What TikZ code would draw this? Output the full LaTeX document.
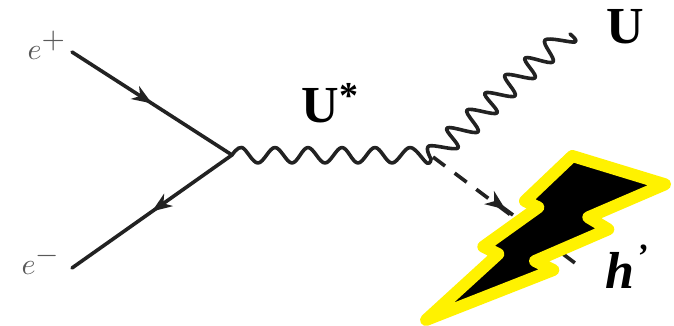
\documentclass[tikz,border=0pt]{standalone}
\usepackage{fontspec}
\newfontfamily\tnr{Liberation Serif}
\usetikzlibrary{decorations.markings,arrows.meta}
\definecolor{ink}{HTML}{222222}
\tikzset{
  x=1pt,y=-1pt,
  fermion/.style={draw=ink,line width=3.6pt,line cap=round,postaction={decorate},
    decoration={markings,mark=at position #1 with {\arrow{Stealth[length=20pt,width=15pt,inset=6pt]}}}},
  boson/.style={draw=ink,line width=3.6pt,line cap=round,line join=round},
  higgs/.style={draw=ink,line width=3.6pt,dash pattern=on 15pt off 12pt},
  elabel/.style={text=black!65,inner sep=0pt},
  blabel/.style={inner sep=0pt,text=black,font=\fontsize{52}{56}\selectfont\tnr\bfseries},
  bolt/.style={fill=black,draw=yellow,line width=12pt,line join=round},
}
\begin{document}
\begin{tikzpicture}
\useasboundingbox[fill=white] (0,0) rectangle (674,326);
\coordinate (ep) at (72,52);
\coordinate (em) at (72,268);
\coordinate (v1) at (232,155);
\coordinate (v2) at (431,159);
\coordinate (uend) at (570,34);
\coordinate (hstart) at (433,157);
\coordinate (hend) at (583,269);
\path[fermion=0.5] (ep) -- (v1);
\path[fermion=0.5] (v1) -- (em);
\path[boson] plot[smooth,tension=0.6] coordinates {(v1) (242,147.5) (258,163) (275,147.5) (292,163) (308,147.5) (325,163) (342,147.5) (358,163) (375,147.5) (392,163) (410,147.5) (427,163) (v2)};
\path[boson] plot[smooth,tension=0.6] coordinates {(v2) (429,146) (458,148) (447,128) (478,132) (467,110) (497,113) (485,93) (515,96) (505,75) (535,78) (525,58) (553,62) (545,40) (575,42) (uend)};
\path[higgs] (hstart) -- (hend);
\path[draw=ink,line width=3.6pt,postaction={decorate},
  decoration={markings,mark=at position 0.5 with {\arrow{Stealth[length=20pt,width=16pt,inset=6pt]}}}]
  (498,204) -- (513,215);
\node[elabel] (lp) at (47,45) {\scalebox{3}{$e^{\textstyle +}$}};
\node[elabel] (lm) at (41,260) {\scalebox{3}{$e^{\textstyle -}$}};
\node[blabel] (lu) at (625,27) {U};
\node[blabel] (lus) at (330,103) {U\raisebox{14pt}{\fontsize{38}{40}\selectfont *}};
\path[bolt] (572.3,156) -- (665,184.3) -- (588.3,217.3) -- (608.3,229.3) -- (535,261)
  -- (553.3,270) -- (426,320) -- (498.3,254) -- (483.3,246.7) -- (538.3,207.3) -- (525,201) -- cycle;
\node[blabel,font=\fontsize{52}{56}\selectfont\tnr\bfseries\itshape] (lh) at (620,270) {h};
\node[inner sep=0pt,font=\fontsize{34}{36}\selectfont\tnr\bfseries\itshape] (lhp) at (642,256) {’};
\end{tikzpicture}
\end{document}
